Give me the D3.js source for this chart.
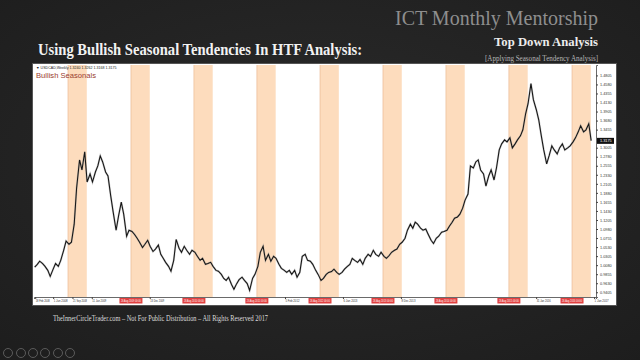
<!DOCTYPE html>
<html><head><meta charset="utf-8">
<script src="https://cdn.jsdelivr.net/npm/d3@7"></script>
<style>html,body{margin:0;padding:0;background:#252525;}svg{display:block;}</style>
</head><body>
<script>
// ---- data ----
const symbol = "USDCAD,Weekly";
const seriesStart = "2008-02-15"; // semi-monthly closes (1st & 15th of each month)
const closes = [
 1.003,1.010,1.018,1.012,1.005,0.995,0.980,0.998,1.012,1.005,1.020,1.045,1.068,1.060,1.065,1.110,1.200,1.270,1.245,1.290,1.215,
 1.235,1.215,1.240,1.255,1.280,1.265,1.240,1.230,1.180,1.140,1.095,1.130,1.165,1.135,1.080,1.095,1.092,1.085,1.075,1.065,1.052,1.060,1.070,1.055,
 1.042,1.048,1.058,1.035,1.025,1.015,1.005,0.993,1.020,1.072,1.050,1.040,1.055,1.045,1.035,1.045,1.040,1.030,1.020,1.025,1.010,1.012,1.015,1.005,
 0.995,0.993,0.985,0.975,0.970,0.978,0.960,0.948,0.962,0.972,0.978,0.970,0.962,0.945,0.975,0.985,1.005,1.040,1.055,1.020,1.035,1.018,1.030,1.025,
 1.010,1.000,0.995,0.990,0.995,0.985,0.995,0.978,0.990,1.030,1.035,1.020,1.018,1.010,0.995,0.985,0.970,0.975,0.985,0.990,0.992,0.998,0.990,0.985,
 0.990,0.998,1.005,1.010,1.025,1.020,1.015,1.022,1.010,1.025,1.035,1.030,1.045,1.035,1.030,1.040,1.030,1.025,1.032,1.040,1.045,1.048,1.060,1.065,
 1.075,1.095,1.110,1.100,1.115,1.110,1.100,1.095,1.098,1.085,1.070,1.062,1.075,1.080,1.090,1.092,1.095,1.105,1.115,1.125,1.128,1.135,1.150,1.170,
 1.185,1.255,1.250,1.265,1.270,1.245,1.235,1.205,1.230,1.245,1.220,1.250,1.295,1.310,1.320,1.315,1.325,1.300,1.310,1.320,1.330,1.345,1.385,1.410,
 1.460,1.420,1.395,1.370,1.330,1.295,1.260,1.280,1.305,1.295,1.285,1.300,1.310,1.295,1.300,1.305,1.315,1.325,1.340,1.355,1.340,1.345,1.360,1.318
];
const bandYears = [2008,2009,2010,2011,2012,2013,2014,2015,2016];
const bandStartMD = "08-26";
const bandEndMD = "12-13";
const xTickLabels = ["18 Feb 2008","1 Jun 2008","21 Sep 2008","11 Jan 2009","3 May 2009","23 Aug 2009","13 Dec 2009","4 Apr 2010","25 Jul 2010","14 Nov 2010","6 Mar 2011","26 Jun 2011","16 Oct 2011","5 Feb 2012","27 May 2012","16 Sep 2012","6 Jan 2013","28 Apr 2013","18 Aug 2013","8 Dec 2013","30 Mar 2014","20 Jul 2014","9 Nov 2014","1 Mar 2015","21 Jun 2015","11 Oct 2015","31 Jan 2016","22 May 2016","11 Sep 2016","1 Jan 2017"];
const yTickStart = 0.9405, yTickStep = 0.0225, yTickCount = 25;
const lastPrice = 1.3175;
const texts = {
  brand: "ICT Monthly Mentorship",
  sub: "Top Down Analysis",
  sub2: "[Applying Seasonal Tendency Analysis]",
  title: "Using Bullish Seasonal Tendencies In HTF Analysis:",
  legend: "Bullish Seasonals",
  footer: "TheInnerCircleTrader.com – Not For Public Distribution – All Rights Reserved 2017"
};

// ---- build ----
const W = 640, H = 360;
const svg = d3.select("body").append("svg").attr("width", W).attr("height", H);
const defs = svg.append("defs");
const bg = defs.append("radialGradient").attr("id","bg").attr("cx","50%").attr("cy","45%").attr("r","75%");
bg.append("stop").attr("offset","0%").attr("stop-color","#2b2b2b");
bg.append("stop").attr("offset","100%").attr("stop-color","#1d1d1d");
svg.append("rect").attr("width",W).attr("height",H).attr("fill","url(#bg)");

const serif = "'Liberation Serif','DejaVu Serif',serif";
const sans = "'Liberation Sans',Arial,sans-serif";

svg.append("text").attr("x",598).attr("y",25).attr("text-anchor","end")
  .attr("font-family",serif).attr("font-size",20.5).attr("fill","#8e8e8e")
  .attr("textLength",203).attr("lengthAdjust","spacingAndGlyphs").text(texts.brand);
svg.append("text").attr("x",598).attr("y",46).attr("text-anchor","end")
  .attr("font-family",serif).attr("font-weight","bold").attr("font-size",13).attr("fill","#ececec")
  .attr("textLength",104).attr("lengthAdjust","spacingAndGlyphs").text(texts.sub);
svg.append("text").attr("x",598).attr("y",61).attr("text-anchor","end")
  .attr("font-family",serif).attr("font-size",8).attr("fill","#b5b5b5")
  .attr("textLength",113).attr("lengthAdjust","spacingAndGlyphs").text(texts.sub2);
svg.append("text").attr("x",38).attr("y",55)
  .attr("font-family",serif).attr("font-weight","bold").attr("font-size",16).attr("fill","#f2f2f2")
  .attr("textLength",324).attr("lengthAdjust","spacingAndGlyphs").text(texts.title);
svg.append("text").attr("x",53).attr("y",321)
  .attr("font-family",serif).attr("font-size",7.5).attr("fill","#dcdcdc")
  .attr("textLength",215).attr("lengthAdjust","spacingAndGlyphs").text(texts.footer);

// bottom-left control icons
const icons = [8,21,33,45,58,70];
svg.append("g").selectAll("circle").data(icons).join("circle")
  .attr("cx",d=>d).attr("cy",353).attr("r",4.5).attr("fill","none").attr("stroke","#6a6a6a").attr("stroke-width",0.8);

// chart panel
const P = {l:34, r:596, t:65, b:297};
svg.append("rect").attr("x",32.5).attr("y",63.5).attr("width",584).attr("height",242)
  .attr("fill","#ffffff").attr("stroke","#555").attr("stroke-width",1);

const parse = d3.utcParse("%Y-%m-%d");
const x = d3.scaleUtc().domain([parse("2008-02-11"), parse("2017-01-12")]).range([P.l, P.r]);
const y = d3.scaleLinear().domain([0.9287, 1.5064]).range([P.b, P.t]);

const plot = svg.append("g");
defs.append("clipPath").attr("id","clip").append("rect")
  .attr("x",P.l).attr("y",P.t).attr("width",P.r-P.l).attr("height",P.b-P.t);

// seasonal bands
plot.append("g").selectAll("rect").data(bandYears).join("rect")
  .attr("x",d=>x(parse(d+"-"+bandStartMD)))
  .attr("width",d=>x(parse(d+"-"+bandEndMD))-x(parse(d+"-"+bandStartMD)))
  .attr("y",P.t).attr("height",P.b-P.t).attr("fill","#fddcbd");
plot.append("g").selectAll("line").data(bandYears).join("line")
  .attr("x1",d=>x(parse(d+"-"+bandStartMD))).attr("x2",d=>x(parse(d+"-"+bandStartMD)))
  .attr("y1",P.t).attr("y2",P.b).attr("stroke","#e8b48c").attr("stroke-width",0.6);

// dates for semi-monthly series: even index -> 15th, odd index -> 1st of next month
const start = parse(seriesStart);
const dates = closes.map((_,i)=>{
  const base = d3.utcMonth.offset(d3.utcMonth.floor(start), Math.floor((i+1)/2));
  return ((i+1)%2===0) ? base : d3.utcDay.offset(base,14);
});
const pts = closes.map((v,i)=>({d:dates[i], v}));
const line = d3.line().x(p=>x(p.d)).y(p=>y(p.v)).curve(d3.curveLinear);
plot.append("path").datum(pts).attr("clip-path","url(#clip)")
  .attr("d",line).attr("fill","none").attr("stroke","#9a9a9a").attr("stroke-width",2).attr("stroke-opacity",0.5);
plot.append("path").datum(pts).attr("clip-path","url(#clip)")
  .attr("d",line).attr("fill","none").attr("stroke","#151515").attr("stroke-width",1.05);

// header text in panel
svg.append("text").attr("x",36).attr("y",68.5).attr("font-family",sans).attr("font-size",3.6).attr("fill","#222")
  .text("▼ " + symbol + "  1.3240 1.3262 1.3168 1.3175");
svg.append("text").attr("x",36).attr("y",78).attr("font-family",sans).attr("font-size",7.6).attr("fill","#9a3c30")
  .text(texts.legend);

// right axis (labels under the last-price tag are hidden, as in the terminal)
const yTicks = d3.range(yTickCount).map(i=>yTickStart + i*yTickStep)
  .filter(v=>y(v)>P.t+2 && Math.abs(y(v)-y(lastPrice))>6);
const ra = svg.append("g").attr("transform",`translate(${P.r},0)`)
  .call(d3.axisRight(y).tickValues(yTicks).tickFormat(d3.format(".4f")).tickSize(2).tickPadding(2));
ra.select(".domain").attr("stroke","#444").attr("stroke-width",0.8);
ra.selectAll("text").attr("font-family",sans).attr("font-size",3.8).attr("fill","#333");
ra.selectAll(".tick line").attr("stroke","#444");
// last price tag
const lp = svg.append("g").attr("transform",`translate(${P.r+1},${y(lastPrice)})`);
lp.append("rect").attr("x",0).attr("y",-3).attr("width",17).attr("height",6).attr("fill","#111");
lp.append("text").attr("x",3).attr("y",1.5).attr("font-family",sans).attr("font-size",3.8).attr("fill","#fff").text(d3.format(".4f")(lastPrice));

// red date flags at band starts (period markers)
const flagYears = bandYears.slice(1);
const flagX = flagYears.map(d=>x(parse(d+"-"+bandStartMD)));

// bottom axis (labels hidden where a flag covers them)
const fmt = d3.utcParse("%d %b %Y");
const visibleTicks = xTickLabels.filter(s=>{
  const px = x(fmt(s));
  return !flagX.some(f=> px+18 > f-13 && px < f+15);
});
const xa = svg.append("g").attr("transform",`translate(0,${P.b})`)
  .call(d3.axisBottom(x).tickValues(visibleTicks.map(s=>fmt(s))).tickFormat((d,i)=>visibleTicks[i]).tickSize(2).tickPadding(1));
xa.select(".domain").attr("stroke","#444").attr("stroke-width",0.8);
xa.selectAll("text").attr("font-family",sans).attr("font-size",3.1).attr("fill","#333").attr("text-anchor","start")
  .attr("textLength",14).attr("lengthAdjust","spacingAndGlyphs");
xa.selectAll(".tick line").attr("stroke","#444");

const fg = svg.append("g").selectAll("g").data(flagYears).join("g")
  .attr("transform",d=>`translate(${x(parse(d+"-"+bandStartMD))},${P.b+1})`);
fg.append("rect").attr("x",-11.5).attr("y",0).attr("width",23).attr("height",5.5).attr("fill","#e04040");
fg.append("text").attr("x",0).attr("y",4.2).attr("text-anchor","middle").attr("font-family",sans)
  .attr("font-size",3.4).attr("fill","#fff").attr("textLength",20).attr("lengthAdjust","spacingAndGlyphs")
  .text(d=>"26 Aug "+d+" 00:00");
</script>
</body></html>
